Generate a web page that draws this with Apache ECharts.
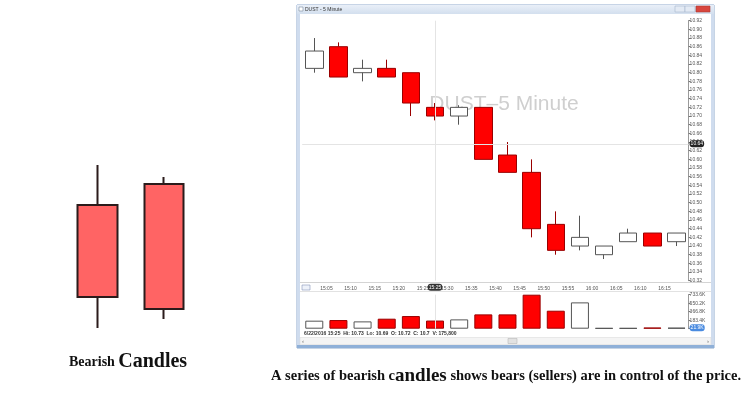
<!DOCTYPE html>
<html><head><meta charset="utf-8">
<script src="https://cdn.jsdelivr.net/npm/echarts@6/dist/echarts.min.js"></script>
<style>html,body{margin:0;padding:0;background:#fff}#c{width:745px;height:393px}</style>
</head><body><div id="c"></div>
<script>
// ---- Left illustration: two bearish candles (open, close, low, high) ----
const bearishLabels = ['A', 'B'];
const bearishOpen  = [13.5, 15.6];
const bearishClose = [4.3, 3.1];
const bearishLow   = [1.2, 2.1];
const bearishHigh  = [17.5, 16.3];

// ---- DUST 5-minute chart ----
const times  = ['15:00','15:05','15:10','15:15','15:20','15:25','15:30','15:35','15:40','15:45','15:50','15:55','16:00','16:05','16:10','16:15'];
const opens  = [10.81,10.86,10.80,10.81,10.80,10.72,10.70,10.72,10.61,10.57,10.45,10.40,10.38,10.41,10.43,10.41];
const highs  = [10.88,10.87,10.83,10.83,10.80,10.73,10.725,10.72,10.64,10.60,10.48,10.47,10.40,10.44,10.43,10.43];
const lows   = [10.80,10.79,10.78,10.79,10.70,10.69,10.68,10.60,10.57,10.42,10.38,10.39,10.37,10.41,10.40,10.40];
const closes = [10.85,10.79,10.81,10.79,10.73,10.70,10.72,10.60,10.57,10.44,10.39,10.42,10.40,10.43,10.40,10.43];
const volumes = [173000,187000,158000,216000,273000,175800,201000,309000,309000,733600,388000,568000,15000,15000,25000,21900];

const priceMin = 10.32, priceMax = 10.92, priceStep = 0.02;
const volMax = 733600, volStep = 183400;
const cursorIndex = 5;        // crosshair on 15:25 bar
const cursorPrice = 10.636;   // crosshair price level
const statusDate = '6/22/2016';

const candleData = opens.map((o, i) => [o, closes[i], lows[i], highs[i]]);
const bearData = bearishOpen.map((o, i) => [o, bearishClose[i], bearishLow[i], bearishHigh[i]]);
const upStyle = {color: '#ffffff', borderColor: '#555555', borderWidth: 1};
const dnStyle = {color: '#ff0000', borderColor: '#9a0000', borderWidth: 1};
const volData = volumes.map((v, i) => ({value: v, itemStyle: closes[i] >= opens[i] ? upStyle : dnStyle}));

const fmtVol = v => v === 0 ? '' : (v / 1000).toFixed(1) + 'K';
const statusText = statusDate + ' ' + times[cursorIndex] + '  Hi: ' + highs[cursorIndex] +
  '  Lo: ' + lows[cursorIndex] + '  O: ' + opens[cursorIndex] + '  C: ' + closes[cursorIndex] +
  '  V: ' + volumes[cursorIndex].toLocaleString('en-US');

const small = {fontSize: 5, color: '#555', fontFamily: 'Liberation Sans'};
const chart = echarts.init(document.getElementById('c'), null, {renderer: 'canvas'});
chart.setOption({
  animation: false,
  grid: [
    {left: 64, top: 150, width: 133.4, height: 190},
    {left: 302.2, top: 20.7, width: 386.4, height: 260},
    {left: 302.2, top: 294.7, width: 386.4, height: 34}
  ],
  xAxis: [
    {gridIndex: 0, type: 'category', data: bearishLabels, show: false},
    {gridIndex: 1, type: 'category', data: times, boundaryGap: true,
      axisLine: {show: false}, axisTick: {show: false}, splitLine: {show: false},
      axisLabel: Object.assign({interval: 0, margin: 5, padding: [0, 24, 0, 0],
        formatter: (v, i) => i === 0 ? '' : v}, small),
      axisPointer: {show: true, type: 'line', value: times[cursorIndex], status: 'show', triggerTooltip: false,
        lineStyle: {color: '#e4e4e4', width: 1, type: 'solid'},
        label: {show: true, fontSize: 5, backgroundColor: '#333', color: '#fff', padding: [1, 1], margin: 3,
          fontFamily: 'Liberation Sans', formatter: p => p.value}}},
    {gridIndex: 2, type: 'category', data: times, boundaryGap: true,
      axisLine: {show: false}, axisTick: {show: false}, axisLabel: {show: false}, splitLine: {show: false},
      axisPointer: {show: true, type: 'line', value: times[cursorIndex], status: 'show', triggerTooltip: false,
        lineStyle: {color: '#e4e4e4', width: 1, type: 'solid'}, label: {show: false}}}
  ],
  yAxis: [
    {gridIndex: 0, min: 0, max: 19, show: false},
    {gridIndex: 1, position: 'right', min: priceMin, max: priceMax, interval: priceStep,
      axisLine: {show: true, lineStyle: {color: '#9a9a9a', width: 1}},
      axisTick: {show: true, length: 2, lineStyle: {color: '#777'}},
      splitLine: {show: false},
      axisLabel: Object.assign({margin: 1, formatter: v => v.toFixed(2)}, small),
      axisPointer: {show: true, type: 'line', value: cursorPrice, status: 'show', snap: false, triggerTooltip: false,
        lineStyle: {color: '#e4e4e4', width: 1, type: 'solid'},
        label: {show: true, fontSize: 5, backgroundColor: '#222', color: '#fff', padding: [1, 1], margin: 1,
          fontFamily: 'Liberation Sans', formatter: p => Number(p.value).toFixed(2)}}},
    {gridIndex: 2, position: 'right', min: 0, max: volMax, interval: volStep,
      axisLine: {show: true, lineStyle: {color: '#9a9a9a', width: 1}},
      axisTick: {show: true, length: 2, lineStyle: {color: '#777'}},
      splitLine: {show: false},
      axisLabel: Object.assign({margin: 1, formatter: fmtVol}, small),
      axisPointer: {show: true, type: 'line', value: volumes[volumes.length - 1], status: 'show', snap: false, triggerTooltip: false,
        lineStyle: {opacity: 0},
        label: {show: true, fontSize: 5, backgroundColor: '#4a8be0', color: '#fff', padding: [1, 1], margin: 1,
          fontFamily: 'Liberation Sans', formatter: p => fmtVol(Number(p.value))}}}
  ],
  series: [
    {type: 'candlestick', xAxisIndex: 0, yAxisIndex: 0, data: bearData, barWidth: 40,
      itemStyle: {color: '#ff6464', color0: '#ff6464', borderColor: '#2b1b1b', borderColor0: '#2b1b1b', borderWidth: 2}},
    {type: 'candlestick', xAxisIndex: 1, yAxisIndex: 1, data: candleData, barWidth: 18,
      itemStyle: {color: upStyle.color, borderColor: upStyle.borderColor, color0: dnStyle.color, borderColor0: dnStyle.borderColor, borderWidth: 1}},
    {type: 'bar', xAxisIndex: 2, yAxisIndex: 2, data: volData, barWidth: 18}
  ],
  graphic: [
    // window frame
    {type: 'rect', z: -5, shape: {x: 297, y: 5, width: 417, height: 343}, style: {fill: '#ffffff', stroke: '#8ea9cc', lineWidth: 1}},
    {type: 'rect', z: -4, shape: {x: 297, y: 5, width: 3, height: 343}, style: {fill: '#cfdcee'}},
    {type: 'rect', z: -4, shape: {x: 711, y: 5, width: 3, height: 343}, style: {fill: '#cfdcee'}},
    {type: 'rect', z: -4, shape: {x: 297, y: 345, width: 417, height: 3}, style: {fill: '#8fb0d8'}},
    {type: 'rect', z: -4, shape: {x: 297, y: 5, width: 417, height: 9},
      style: {fill: new echarts.graphic.LinearGradient(0, 0, 0, 1, [{offset: 0, color: '#e9eff8'}, {offset: 1, color: '#d3dfee'}])}},
    {type: 'rect', shape: {x: 299, y: 7, width: 4, height: 4}, style: {fill: '#fff', stroke: '#7a8aa0', lineWidth: 0.6}},
    {type: 'text', x: 305, y: 9.5, style: {text: 'DUST - 5 Minute', fontSize: 5, fill: '#333', fontFamily: 'Liberation Sans', verticalAlign: 'middle'}},
    {type: 'rect', shape: {x: 675, y: 6, width: 10, height: 6}, style: {fill: '#e3eaf4', stroke: '#a4b6cf', lineWidth: 0.6}},
    {type: 'rect', shape: {x: 685, y: 6, width: 10, height: 6}, style: {fill: '#e3eaf4', stroke: '#a4b6cf', lineWidth: 0.6}},
    {type: 'rect', shape: {x: 696, y: 6, width: 14, height: 6}, style: {fill: '#d9463e', stroke: '#a83a33', lineWidth: 0.6}},
    // separators
    {type: 'line', shape: {x1: 300, y1: 282.5, x2: 711, y2: 282.5}, style: {stroke: '#d4d4d4', lineWidth: 1}},
    {type: 'line', shape: {x1: 300, y1: 291.5, x2: 711, y2: 291.5}, style: {stroke: '#e2e2e2', lineWidth: 1}},
    {type: 'rect', shape: {x: 302, y: 285, width: 8, height: 5}, style: {fill: '#eef2fa', stroke: '#8896b8', lineWidth: 0.6}},
    // status and scrollbar
    {type: 'text', x: 304, y: 333.5, style: {text: statusText, fontSize: 5, fontWeight: 'bold', fill: '#333', fontFamily: 'Liberation Sans', verticalAlign: 'middle'}},
    {type: 'rect', shape: {x: 300, y: 337.5, width: 411, height: 7}, style: {fill: '#f4f4f4', stroke: '#dcdcdc', lineWidth: 0.6}},
    {type: 'rect', shape: {x: 508, y: 338.5, width: 9, height: 5}, style: {fill: '#e2e2e2', stroke: '#b8b8b8', lineWidth: 0.6}},
    {type: 'text', x: 302, y: 341, style: {text: '‹', fontSize: 6, fill: '#666', verticalAlign: 'middle'}},
    {type: 'text', x: 707, y: 341, style: {text: '›', fontSize: 6, fill: '#666', verticalAlign: 'middle'}},
    // watermark
    {type: 'text', z: -1, x: 504, y: 104, style: {text: 'DUST–5 Minute', fontSize: 21, fill: '#cfcfcf', fontFamily: 'Liberation Sans', align: 'center', verticalAlign: 'middle'}},
    // captions
    {type: 'text', x: 69, y: 372, style: {text: '{a|Bearish} {b|Candles}', verticalAlign: 'bottom',
      rich: {a: {fontSize: 14, fontWeight: 'bold', fontFamily: 'Liberation Serif', fill: '#111'},
             b: {fontSize: 20, fontWeight: 'bold', fontFamily: 'Liberation Serif', fill: '#111'}}}},
    {type: 'text', x: 271, y: 386, style: {text: '{a|A series of bearish c}{b|andles}{a| shows bears (sellers) are in control of the price.}', verticalAlign: 'bottom',
      rich: {a: {fontSize: 14.5, fontWeight: 'bold', fontFamily: 'Liberation Serif', fill: '#111'},
             b: {fontSize: 19, fontWeight: 'bold', fontFamily: 'Liberation Serif', fill: '#111'}}}}
  ]
});
</script></body></html>
